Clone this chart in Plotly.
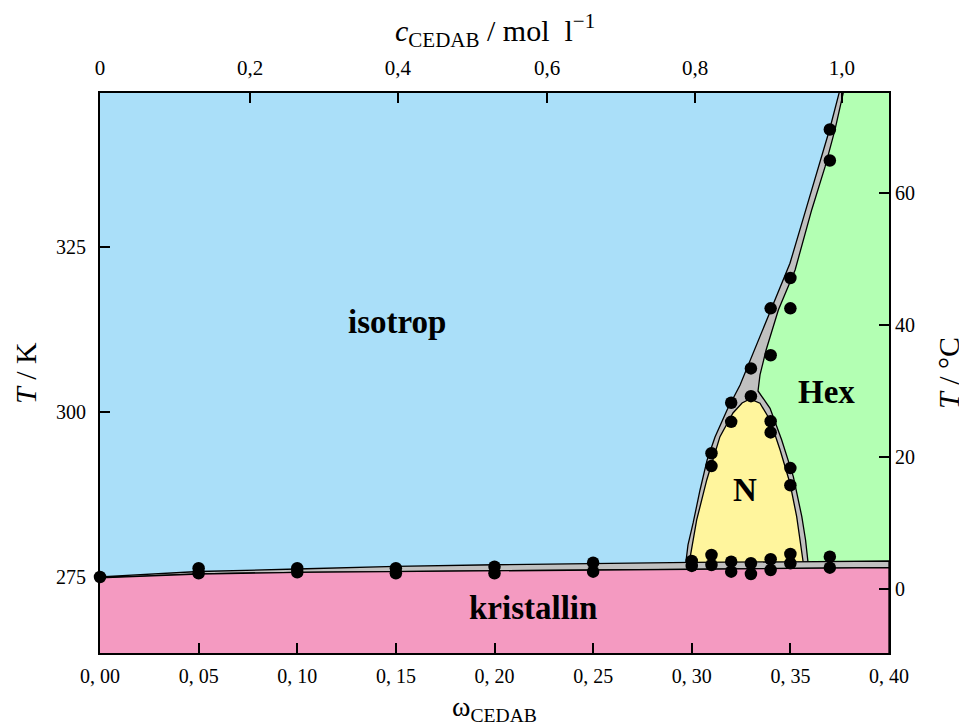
import plotly.graph_objects as go

# ---------------- data ----------------
# measured transition points (mass fraction, temperature in K)
omega_pts = [0.00,
             0.05, 0.05, 0.10, 0.10, 0.15, 0.15, 0.20, 0.20, 0.25, 0.25,
             0.30, 0.30, 0.31, 0.31, 0.32, 0.32, 0.33, 0.33, 0.34, 0.34,
             0.35, 0.35, 0.37, 0.37,
             0.31, 0.31, 0.32, 0.32, 0.33, 0.33, 0.34, 0.34, 0.34, 0.34,
             0.35, 0.35, 0.35, 0.35, 0.37, 0.37]
T_pts = [275.0,
         276.32, 275.56, 276.32, 275.71, 276.32, 275.56, 276.56, 275.56, 277.17, 275.80,
         277.42, 276.67, 278.33, 276.82, 277.32, 275.80, 277.08, 275.45, 277.68, 276.06,
         278.48, 277.08, 278.08, 276.41,
         293.74, 291.80, 301.40, 298.50, 302.40, 306.60, 298.60, 296.90, 308.60, 315.70,
         291.50, 288.90, 315.70, 320.30, 338.10, 342.80]

# phase boundaries (mass fraction, temperature in K)
# crystal band: upper (isotrop side) and lower (crystal side) edges
band_up_w = [0.00, 0.05, 0.10, 0.15, 0.20, 0.25, 0.30, 0.35, 0.40]
band_up_T = [275.00, 275.83, 276.21, 276.60, 276.85, 277.05, 277.20, 277.30, 277.42]
band_lo_w = [0.00, 0.05, 0.10, 0.15, 0.20, 0.25, 0.30, 0.35, 0.40]
band_lo_T = [274.85, 275.45, 275.71, 275.80, 275.90, 276.05, 276.15, 276.30, 276.41]

# isotrop boundary of the two-phase region towards N / Hex (from top down)
iso_edge_w = [0.3747, 0.3701, 0.3650, 0.3583, 0.3498, 0.3414, 0.3329, 0.3285, 0.3245,
              0.3179, 0.3118, 0.3078, 0.3042, 0.3007, 0.2981, 0.2971]
iso_edge_T = [348.33, 343.03, 337.73, 331.11, 322.53, 316.47, 310.41, 307.12, 304.09,
              300.30, 296.21, 292.73, 288.18, 283.18, 279.85, 277.42]

# Hex boundary (from top down)
hex_edge_w = [0.3768, 0.3726, 0.3676, 0.3608, 0.3524, 0.3439, 0.3377, 0.3346, 0.3336,
              0.3397, 0.3456, 0.3515, 0.3558, 0.3577, 0.3591]
hex_edge_T = [348.33, 342.73, 337.17, 330.61, 321.52, 315.45, 309.39, 305.61, 303.18,
              300.56, 295.76, 290.20, 284.14, 280.60, 277.47]

# nematic region outline
n_w = [0.2986, 0.3025, 0.3076, 0.3143, 0.3209, 0.3255, 0.3295, 0.3346, 0.3397,
       0.3448, 0.3498, 0.3532, 0.3566]
n_T = [277.00, 283.64, 289.70, 296.26, 299.85, 301.36, 301.97, 301.32, 298.79,
       294.24, 289.20, 284.14, 277.00]

# axes
x_range = [0.0, 0.40]
T_range = [263.48, 348.33]
K_C = 273.15
x_ticks = [0.00, 0.05, 0.10, 0.15, 0.20, 0.25, 0.30, 0.35, 0.40]
x_ticktext = ["0, 00", "0, 05", "0, 10", "0, 15", "0, 20", "0, 25", "0, 30", "0, 35", "0, 40"]
c_tick_pos = [0.0, 0.0761, 0.1510, 0.2267, 0.3017, 0.3761]   # position on mass-fraction scale
c_ticktext = ["0", "0,2", "0,4", "0,6", "0,8", "1,0"]
K_ticks = [275, 300, 325]
C_ticks = [0, 20, 40, 60]

# colours
c_iso = "#aadff9"
c_hex = "#b3ffb3"
c_nem = "#fff59d"
c_kri = "#f49ac1"
c_gray = "#c0c0c0"

FONT = "Liberation Serif"
NB = "\u00a0"

fig = go.Figure()

def poly(xs, ys, color, lw=1.3):
    fig.add_trace(go.Scatter(x=xs, y=ys, mode="lines", fill="toself", fillcolor=color,
                             line=dict(color="black", width=lw), hoverinfo="skip",
                             showlegend=False))

# big gray two-phase area (left edge -> bottom -> right side)
gx = [iso_edge_w[0]] + iso_edge_w + [iso_edge_w[-1], 0.45, 0.45]
gy = [360] + iso_edge_T + [276.8, 276.8, 360]
poly(gx, gy, c_gray)

# hexagonal phase
hx = [hex_edge_w[0]] + hex_edge_w + [hex_edge_w[-1], 0.45, 0.45]
hy = [360] + hex_edge_T + [276.8, 276.8, 360]
poly(hx, hy, c_hex)

# nematic phase
poly(n_w, n_T, c_nem)

# crystal two-phase band
bx = band_up_w + band_lo_w[::-1]
by = band_up_T + band_lo_T[::-1]
poly(bx, by, c_gray)

# crystalline phase
kx = band_lo_w + [0.40, 0.0]
ky = band_lo_T + [250, 250]
poly(kx, ky, c_kri)

# measured points
fig.add_trace(go.Scatter(x=omega_pts, y=T_pts, mode="markers",
                         marker=dict(color="black", size=12.5), cliponaxis=False,
                         showlegend=False, hoverinfo="skip"))

# invisible trace for secondary axes
fig.add_trace(go.Scatter(x=[None], y=[None], xaxis="x2", yaxis="y2", showlegend=False))

def axis_common(fs=20):
    return dict(showline=True, linecolor="black", linewidth=2, ticks="inside",
                ticklen=10, tickwidth=2, tickcolor="black", showgrid=False,
                zeroline=False, tickfont=dict(family=FONT, size=fs, color="black"))

fig.update_layout(
    width=959, height=720,
    margin=dict(l=92, r=78, t=85, b=75),
    paper_bgcolor="white", plot_bgcolor=c_iso,
    xaxis=dict(range=x_range, tickvals=x_ticks, ticktext=x_ticktext, ticklabelstandoff=4,
               **axis_common(20)),
    xaxis2=dict(range=x_range, overlaying="x", side="top", tickvals=c_tick_pos,
                ticktext=c_ticktext, ticklabelstandoff=8, **axis_common(21)),
    yaxis=dict(range=T_range, tickvals=K_ticks, ticklabelstandoff=8, **axis_common(20)),
    yaxis2=dict(range=[T_range[0] - K_C, T_range[1] - K_C], overlaying="y", side="right",
                tickvals=C_ticks, **axis_common(20)),
    font=dict(family=FONT, color="black"),
)

labels = [("isotrop", 0.1506, 313.6), ("N", 0.3270, 288.2),
          ("Hex", 0.3681, 303.0), ("kristallin", 0.2196, 270.3)]
for txt, xx, yy in labels:
    fig.add_annotation(x=xx, y=yy, text=f"<b>{txt}</b>", showarrow=False,
                       font=dict(family=FONT, size=33, color="black"))

titles = [
    ("ω<sub>CEDAB</sub>", 0.5, 0, 0, -55, 0, 28),
    (f"<i>c</i><sub>CEDAB</sub>{NB}/{NB}mol{NB}{NB}l<sup>−1</sup>", 0.5, 1, 0, 63, 0, 30),
    (f"<i>T</i>{NB}/{NB}K", 0, 0.5, -75, 0, -90, 30),
    (f"<i>T</i>{NB}/{NB}°C", 1, 0.5, 59, 0, -90, 30),
]
for txt, xx, yy, xs, ys, ang, fs in titles:
    fig.add_annotation(x=xx, y=yy, xref="paper", yref="paper", text=txt, showarrow=False,
                       xshift=xs, yshift=ys, textangle=ang, xanchor="center", yanchor="middle",
                       font=dict(family=FONT, size=fs, color="black"))

fig.write_html("out.html")
